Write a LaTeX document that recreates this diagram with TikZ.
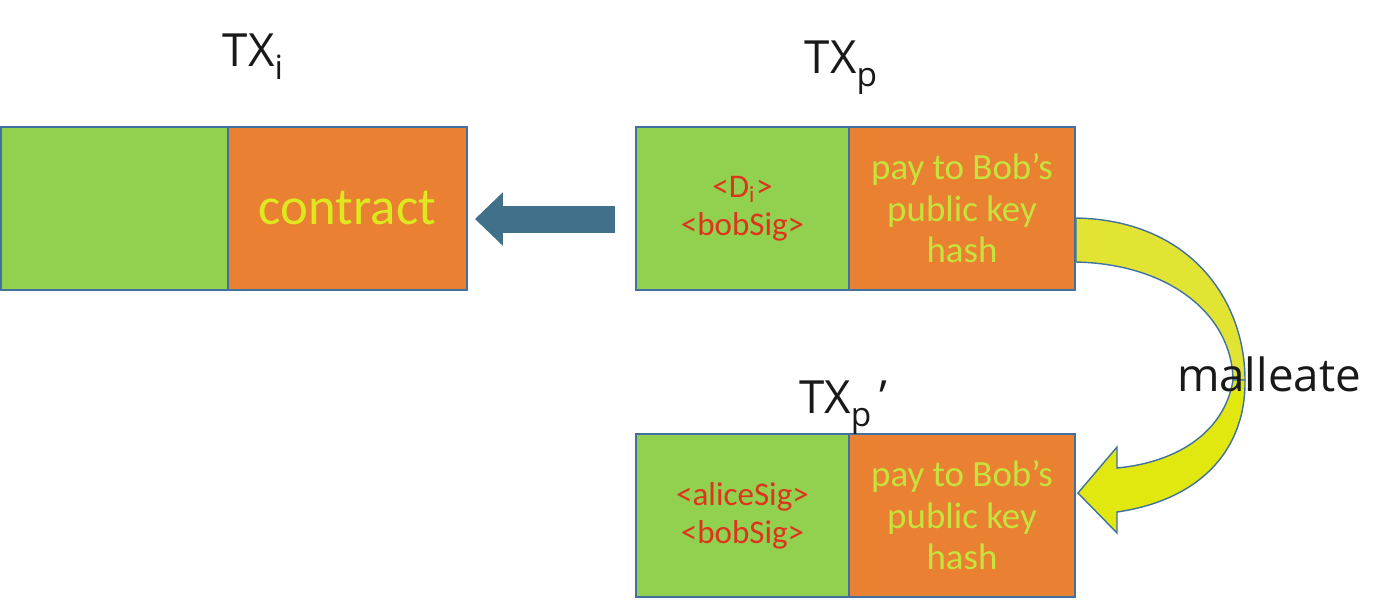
\documentclass[tikz,border=0pt]{standalone}
\usepackage{fontspec}
\setmainfont{Carlito}
\newfontfamily\titlefont{Open Sans}
\usetikzlibrary{arrows.meta,calc}
\definecolor{cellgreen}{RGB}{146,208,80}
\definecolor{cellorange}{RGB}{233,128,50}
\definecolor{cellline}{RGB}{65,113,156}
\definecolor{sigred}{RGB}{222,52,28}
\definecolor{paytext}{RGB}{198,226,60}
\definecolor{contracttext}{RGB}{222,232,30}
\definecolor{backarrow}{RGB}{65,112,138}
\definecolor{mallfront}{RGB}{224,232,16}
\definecolor{mallback}{RGB}{226,228,52}
\newcommand\txsub[1]{\raisebox{-1.3mm}{\fontsize{9.5}{10}\selectfont #1}}
\begin{document}
\begin{tikzpicture}[x=0.01cm, y=-0.01cm,
  cell/.style={rectangle, draw=cellline, line width=0.5pt, minimum height=1.63cm, inner sep=0pt, align=center},
  sigcell/.style={cell, fill=cellgreen, minimum width=2.13cm, text=sigred, font=\fontsize{9.4}{10.8}\selectfont},
  paycell/.style={cell, fill=cellorange, minimum width=2.26cm, text=paytext, font=\fontsize{10.5}{11.8}\selectfont},
  title/.style={anchor=base, text=black!90, font=\titlefont\fontsize{13}{16}\selectfont}]
  \useasboundingbox (0,0) rectangle (1400,599);
  % Nodes
  \node (i-g) [cell, fill=cellgreen, minimum width=2.27cm] at (114.5,208.5) {};
  \node (i-c) [cell, fill=cellorange, minimum width=2.39cm, text=contracttext, font=\fontsize{15}{18}\selectfont] at (347.5,208.5) {contract};
  \node (p-g) [sigcell] at (742.5,208.5) {<D\textsubscript{i}>\\<bobSig>};
  \node (p-c) [paycell] at (962,208.5) {pay to Bob’s\\public key\\hash};
  \node (q-g) [sigcell] at (742.5,515.5) {<aliceSig>\\<bobSig>};
  \node (q-c) [paycell] at (962,515.5) {pay to Bob’s\\public key\\hash};
  % Header
  \node (tx-i) [title] at (253,66) {TX\txsub{i}};
  \node (tx-p) [title] at (841,73) {TX\txsub{p}};
  \node (tx-q) [title] at (843,413) {TX\txsub{p}\,’};
  % Arrow
  \draw[backarrow, line width=2.7mm, -{Triangle[length=2.8mm, width=5.2mm]}] ([xshift=-2mm, yshift=-1.05mm]p-g.west) -- ([xshift=0.7mm, yshift=-1.05mm]i-c.east);
  \coordinate (m-top) at ($(p-c.east)+(0,9.5)$);
  \coordinate (m-bot) at ($(p-c.east)+(0,53.5)$);
  \coordinate (m-tip) at ($(q-c.east)+(2,-22.5)$);
  \filldraw[fill=mallback, draw=cellline, line width=0.4pt] (m-top) .. controls (1190,220) and (1245,300) .. (1245,380) -- (1233,380) .. controls (1232,315) and (1170,264) .. (m-bot) -- cycle;
  \filldraw[fill=mallfront, draw=cellline, line width=0.4pt] (1233,380) .. controls (1225,430) and (1180,462) .. (1117,468) -- (1117,447) -- (m-tip) -- (1117,533) -- (1117,512) .. controls (1200,500) and (1246,450) .. (1245,380) -- cycle;
  \node (mall) [title] at (1269,391) {malleate};
\end{tikzpicture}
\end{document}
